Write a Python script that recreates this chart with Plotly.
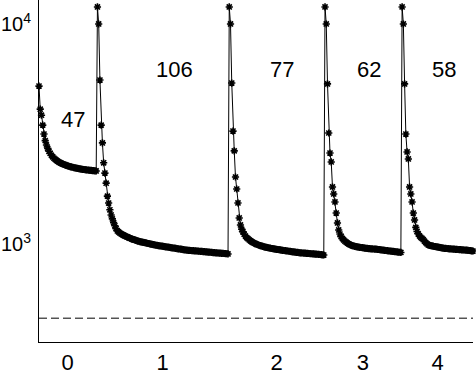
import numpy as np
import plotly.graph_objects as go

# residual per iteration, one list per stage
stage0 = [5220, 4100, 3850, 3470, 3160, 2950, 2820, 2720, 2640, 2580, 2530, 2490,
          2455, 2425, 2400, 2378, 2358, 2340, 2325, 2311, 2298, 2286, 2275, 2265,
          2256, 2247, 2239, 2232, 2225, 2218, 2212, 2206, 2200, 2195, 2190, 2185,
          2181, 2177, 2173, 2169, 2166, 2162, 2159, 2156, 2153, 2150, 2147]
stage1 = [11950, 10000, 5560, 3470, 2880, 2340, 2100, 1890, 1650, 1535, 1430, 1355,
          1300, 1250, 1210, 1175, 1146, 1134, 1123, 1113, 1104, 1096, 1089, 1082,
          1076, 1070, 1064, 1058, 1053, 1048, 1043, 1038, 1034, 1030, 1026, 1023,
          1020, 1017, 1014, 1011, 1008, 1005, 1002, 999, 996, 993, 990, 987, 985,
          983, 981, 979, 977, 975, 973, 971, 969, 967, 965, 963, 961, 959, 957, 955,
          953, 951, 949, 947, 945, 943, 941, 939, 937, 936, 935, 934, 933, 932, 931,
          930, 929, 928, 927, 926, 925, 924, 923, 921, 920, 919, 918, 917, 916, 914,
          913, 912, 911, 910, 909, 908, 907, 906, 905, 904, 903, 901]
stage2 = [11950, 10000, 5390, 3260, 2650, 2016, 1778, 1536, 1313, 1220, 1168, 1135,
          1108, 1087, 1070, 1057, 1045, 1034, 1024, 1016, 1009, 1003, 997, 992, 987,
          983, 979, 975, 971, 968, 965, 962, 959, 957, 954, 952, 950, 948, 946, 944,
          942, 940, 938, 936, 934, 932, 930, 929, 927, 925, 923, 921, 920, 918, 916,
          915, 913, 912, 911, 910, 909, 908, 907, 906, 905, 904, 903, 902, 901, 900,
          899, 898, 897, 896, 894, 893, 891]
stage3 = [11950, 10000, 5340, 3195, 2590, 2360, 1816, 1688, 1552, 1383, 1246, 1158,
          1110, 1080, 1058, 1043, 1030, 1019, 1009, 1001, 994, 988, 983, 979, 976,
          973, 970, 968, 966, 964, 962, 960, 958, 956, 955, 953, 952, 951, 950, 949,
          948, 947, 946, 944, 942, 941, 939, 937, 936, 934, 932, 931, 929, 928, 926,
          925, 923, 922, 920, 919, 917, 915]
stage4 = [11950, 10000, 5340, 3160, 2620, 2435, 1816, 1688, 1552, 1383, 1286, 1190,
          1140, 1110, 1088, 1072, 1061, 1046, 1030, 1015, 1002, 990, 986, 983, 980,
          977, 974, 972, 970, 968, 965, 963, 960, 958, 956, 955, 954, 953, 951, 950,
          949, 948, 947, 946, 945, 944, 943, 942, 941, 940, 939, 938, 937, 936, 934,
          933, 931, 929]

stages = [stage0, stage1, stage2, stage3, stage4]
stage_labels = ["0", "1", "2", "3", "4"]
iter_counts = ["47", "106", "77", "62", "58"]
threshold = 460

# text placement (iteration, value) for the iteration counts
count_pos_x = [27, 108.6, 195.5, 265, 325.5]
count_pos_y = [3661, 6210, 6210, 6210, 6210]

y = np.concatenate([np.array(s, float) for s in stages])
x = np.arange(len(y))
lens = [len(s) for s in stages]
starts = np.cumsum([0] + lens[:-1])
mids = [s + (n - 1) / 2 for s, n in zip(starts, lens)]

FONT = "Liberation Sans, Arial, sans-serif"

fig = go.Figure()
fig.add_trace(go.Scatter(
    x=[0, len(y) - 1], y=[threshold, threshold], mode="lines",
    line=dict(color="black", width=1, dash="8px,4px"), showlegend=False))
fig.add_trace(go.Scatter(
    x=x, y=y, mode="lines+markers", cliponaxis=False,
    line=dict(color="black", width=1),
    marker=dict(symbol="asterisk", size=6, color="black",
                line=dict(color="black", width=1.6)),
    showlegend=False))

for t, px, py in zip(iter_counts, count_pos_x, count_pos_y):
    fig.add_annotation(x=px, y=np.log10(py), text=t, showarrow=False,
                       font=dict(family=FONT, size=22, color="black"))

fig.update_layout(
    width=476, height=370, margin=dict(l=39, r=3, t=0, b=28),
    paper_bgcolor="white", plot_bgcolor="white",
    xaxis=dict(range=[0, len(y) - 1], tickvals=mids, ticktext=stage_labels,
               showgrid=False, zeroline=False, showline=True, linecolor="black",
               linewidth=1, ticks="", ticklabelstandoff=1, automargin=False,
               tickfont=dict(family=FONT, size=22, color="black")),
    yaxis=dict(type="log", range=[2.5545, 4.109], tickvals=[1000, 10000],
               ticktext=["10<sup>3</sup>", "10<sup>4</sup>"],
               showgrid=False, zeroline=False, showline=True, linecolor="black",
               linewidth=1, ticks="", ticklabelstandoff=3, automargin=False,
               tickfont=dict(family=FONT, size=20, color="black")),
)

# the page's default body margin would shift the chart by 8px
fig.write_html("out.html", config={"displayModeBar": False},
               post_script="document.body.style.margin='0';")
